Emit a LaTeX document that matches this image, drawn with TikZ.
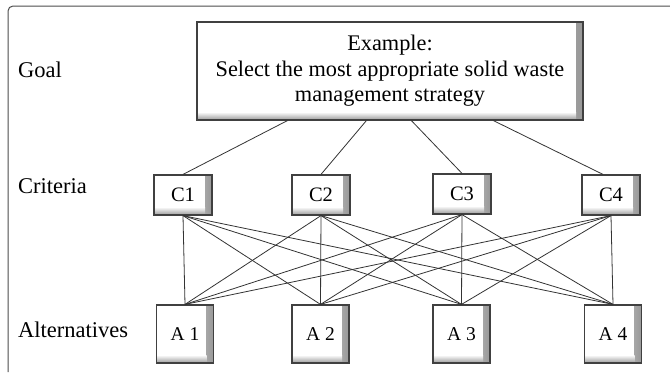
\documentclass[tikz,border=0pt]{standalone}
\usepackage{fontspec}
\setmainfont{Liberation Serif}
\begin{document}
\begin{tikzpicture}[x=1pt,y=-1pt,
  bevel/.style={draw=black!75, line width=1.2pt, fill=white, inner sep=0pt,
    path picture={
      \shade[left color=white, right color=black!40]
        ([xshift=-7pt]path picture bounding box.north east) rectangle (path picture bounding box.south east);
      \shade[top color=white, bottom color=black!40]
        ([yshift=8pt]path picture bounding box.south west) rectangle ([xshift=-7pt]path picture bounding box.south east);
    }},
  cbox/.style={bevel, minimum width=58pt, minimum height=40pt, font=\fontsize{20.5}{24}\selectfont},
  abox/.style={bevel, minimum width=57pt, minimum height=58pt, font=\fontsize{19.5}{23}\selectfont},
  lbl/.style={anchor=west, inner sep=0pt, font=\fontsize{22.5}{26}\selectfont},
  link/.style={draw=black!80, line width=0.8pt}
]
\useasboundingbox (0,0) rectangle (670,375);
\draw[draw=black!70, line width=1pt, rounded corners=5pt] (8,372) -- (8,6) -- (672,6);

\node[bevel, minimum width=386pt, minimum height=98pt, align=center,
  font=\fontsize{22.3}{25.5}\selectfont] (goal) at (390,71)
  {Example:\\Select the most appropriate solid waste\\management strategy};

\node[lbl] (lgoal) at (18,70) {Goal};
\node[lbl] (lcrit) at (18,186) {Criteria};
\node[lbl] (lalt) at (18,330) {Alternatives};

\node[cbox] (C1) at (183,195) {C1};
\node[cbox] (C2) at (321,195) {C2};
\node[cbox] (C3) at (462,194) {C3};
\node[cbox] (C4) at (611,195) {C4};

\node[abox] (A1) at (185,334) {A 1};
\node[abox] (A2) at (320.5,334) {A 2};
\node[abox] (A3) at (461.5,334) {A 3};
\node[abox] (A4) at (613,334) {A 4};

\coordinate (g1) at ([xshift=91pt]goal.south west);
\coordinate (g2) at ([xshift=170pt]goal.south west);
\coordinate (g3) at ([xshift=215pt]goal.south west);
\coordinate (g4) at ([xshift=297pt]goal.south west);
\coordinate (c4t) at ([xshift=-8pt]C4.north);

\draw[link] (g1) -- (C1.north);
\draw[link] (g2) -- (C2.north);
\draw[link] (g3) -- (C3.north);
\draw[link] (g4) -- (c4t);

\foreach \c in {C1,C2,C3,C4}{
  \foreach \a in {A1,A2,A3,A4}{
    \draw[link] (\c.south) -- (\a.north);
  }
}
\end{tikzpicture}
\end{document}
